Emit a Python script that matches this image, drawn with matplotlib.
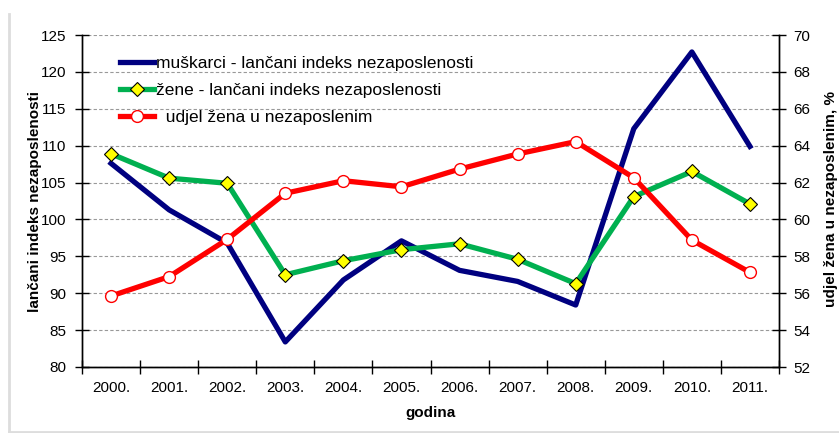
import matplotlib
matplotlib.use("Agg")
import matplotlib.pyplot as plt
from matplotlib.lines import Line2D
import numpy as np

plt.rcParams['font.family'] = ['Liberation Sans', 'DejaVu Sans']

years = ['2000.', '2001.', '2002.', '2003.', '2004.', '2005.', '2006.', '2007.', '2008.', '2009.', '2010.', '2011.']
muskarci = [107.6, 101.3, 96.8, 83.4, 91.8, 97.1, 93.1, 91.6, 88.4, 112.3, 122.7, 109.9]
zene = [108.9, 105.6, 104.9, 92.5, 94.4, 95.9, 96.7, 94.6, 91.3, 103.1, 106.5, 102.1]
udjel = [55.85, 56.9, 58.92, 61.42, 62.1, 61.77, 62.73, 63.55, 64.22, 62.26, 58.88, 57.13]

lab_m = 'muškarci - lančani indeks nezaposlenosti'
lab_z = 'žene - lančani indeks nezaposlenosti'
lab_u = '  udjel žena u nezaposlenim'

fig = plt.figure(figsize=(8.39, 4.33), dpi=100)
ax = fig.add_axes([82/839, 1-367/433, (779-82)/839, (367-35)/433])
ax2 = ax.twinx()

x = np.arange(len(years))
ax.plot(x, muskarci, color='#000080', lw=3.8, zorder=3)
ax.plot(x, zene, color='#00B050', lw=3.8, marker='D', ms=7.5, mfc='#FFFF00', mec='black', mew=0.8, zorder=4)
ax2.plot(x, udjel, color='#FF0000', lw=3.8, marker='o', ms=8.5, mfc='white', mec='#FF0000', mew=1, zorder=3)

ax.set_xlim(-0.5, len(years)-0.5)
ax.set_ylim(80, 125)
ax.set_yticks(np.arange(80, 126, 5))
ax2.set_ylim(52, 70)
ax2.set_yticks(np.arange(52, 71, 2))

ax.set_xticks(x)
ax.set_xticklabels(years)
ax.set_xticks(np.arange(-0.5, len(years), 1), minor=True)
ax.tick_params(axis='x', which='major', length=0, pad=10, labelsize=11)
ax.tick_params(axis='x', which='minor', direction='inout', length=10, width=1)
ax.tick_params(axis='y', direction='inout', length=10, width=1, labelsize=11, pad=6)
ax2.tick_params(axis='y', direction='inout', length=10, width=1, labelsize=11, pad=5)

ax.yaxis.grid(True, color='#999999', linestyle=(0, (3, 2)), lw=0.8)
ax.set_axisbelow(True)
ax.spines['top'].set_visible(False)
ax2.spines['top'].set_visible(False)
for a in (ax, ax2):
    for sp in a.spines.values():
        sp.set_linewidth(1)

fig.text(430/839, 1-413/433, 'godina', ha='center', va='center', fontsize=11, fontweight='bold')
fig.text(35/839, 1-201/433, 'lančani indeks nezaposlenosti', ha='center', va='center',
         rotation=90, fontsize=11, fontweight='bold')
fig.text(831/839, 1-199/433, 'udjel žena u nezaposlenim, %', ha='center', va='center',
         rotation=90, fontsize=11, fontweight='bold')

handles = [
    Line2D([], [], color='#000080', lw=3.8),
    Line2D([], [], color='#00B050', lw=3.8, marker='D', ms=7.5, mfc='#FFFF00', mec='black', mew=0.8),
    Line2D([], [], color='#FF0000', lw=3.8, marker='o', ms=8.5, mfc='white', mec='#FF0000', mew=1),
]
leg = ax2.legend(handles, [lab_m, lab_z, lab_u], loc='upper left',
                 bbox_to_anchor=((120-82)/697, (367-56)/332), frameon=False,
                 fontsize=12.5, borderpad=0, borderaxespad=0, handlelength=1.95,
                 handletextpad=0.12, labelspacing=0.68)

# light outer frame (left and bottom)
fig.add_artist(Line2D([9/839, 9/839], [1-14/433, 1-432/433], color='#dddddd', lw=2, transform=fig.transFigure))
fig.add_artist(Line2D([9/839, 1], [1-432/433, 1-432/433], color='#dddddd', lw=2, transform=fig.transFigure))

fig.savefig('out.png', dpi=100)
